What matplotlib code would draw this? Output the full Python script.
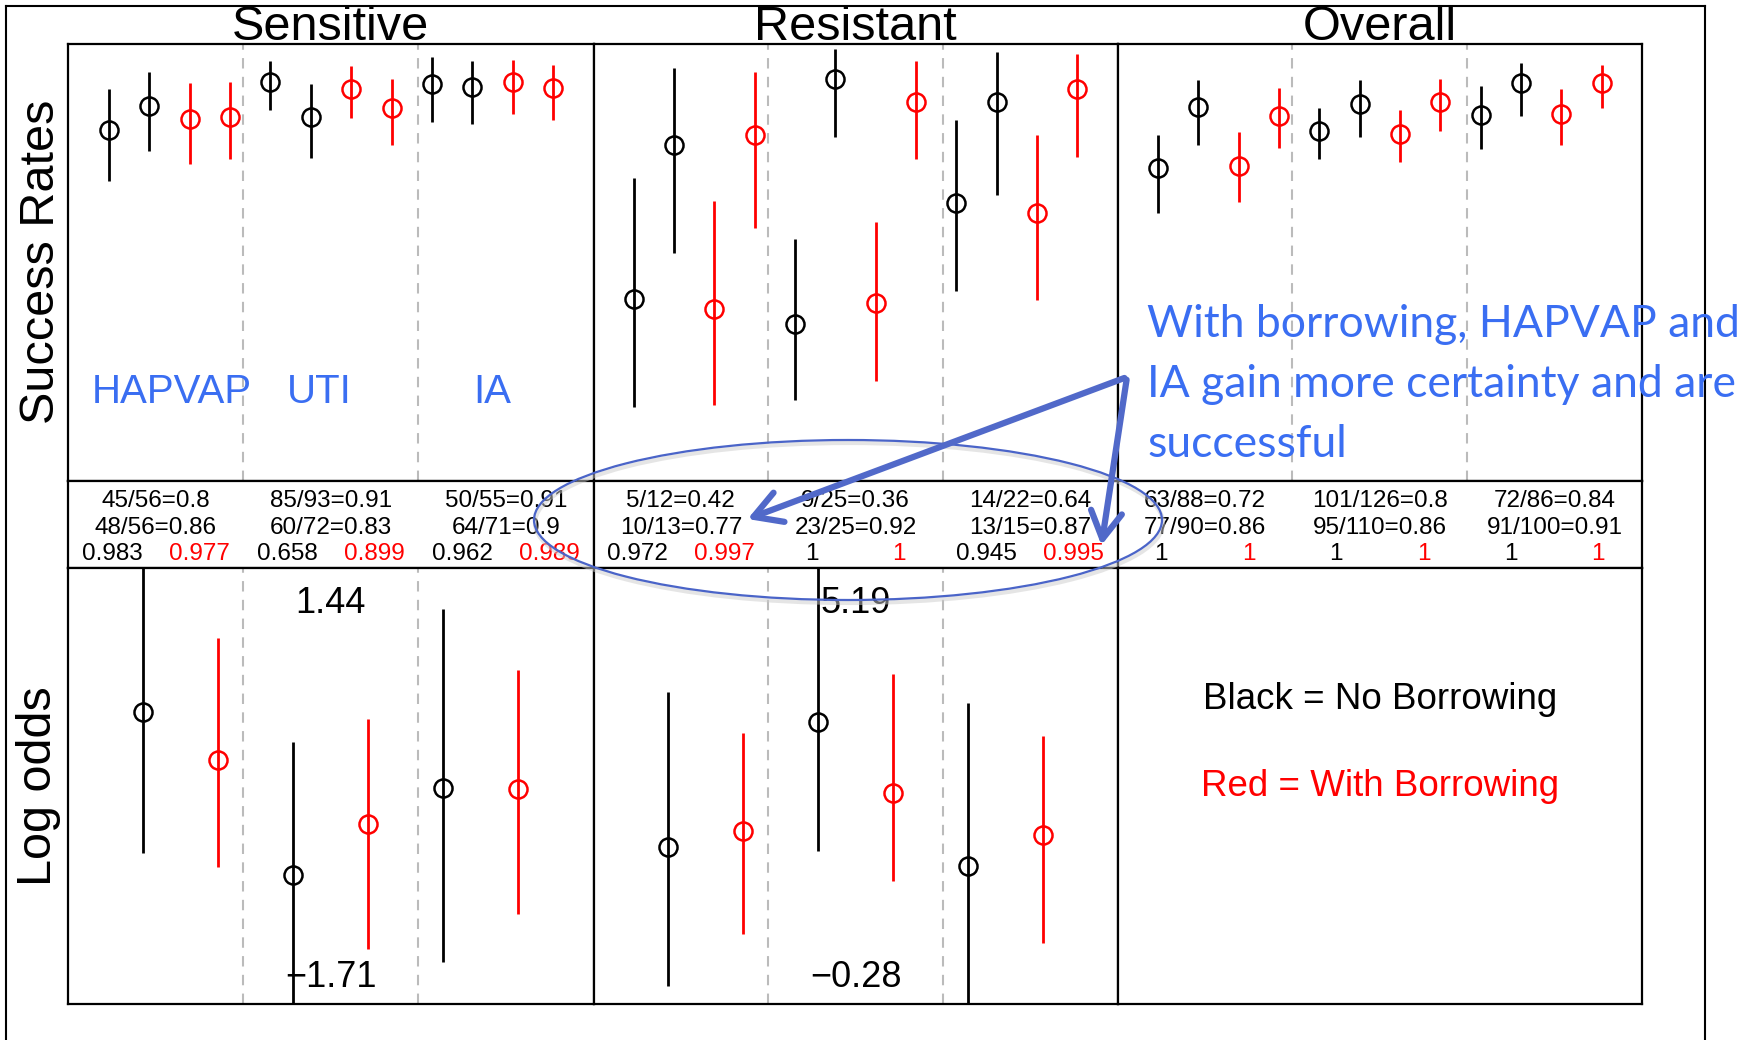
import matplotlib
matplotlib.use("Agg")
import matplotlib.pyplot as plt
from matplotlib.patches import Ellipse, FancyArrowPatch
from matplotlib.lines import Line2D

plt.rcParams['font.family'] = ['Liberation Sans', 'DejaVu Sans']

# sections and infection types
sections = ["Sensitive", "Resistant", "Overall"]
groups = ["HAPVAP", "UTI", "IA"]

# successes / patients, arm 1 and arm 2
arm1_x = [[45, 85, 50], [5, 9, 14], [63, 101, 72]]
arm1_n = [[56, 93, 55], [12, 25, 22], [88, 126, 86]]
arm2_x = [[48, 60, 64], [10, 23, 13], [77, 95, 91]]
arm2_n = [[56, 72, 71], [13, 25, 15], [90, 110, 100]]

# posterior probabilities, no borrowing / with borrowing
prob_nb = [[0.983, 0.658, 0.962], [0.972, 1, 0.945], [1, 1, 1]]
prob_wb = [[0.977, 0.899, 0.989], [0.997, 1, 0.995], [1, 1, 1]]

# success rate intervals without borrowing (arm1 lo/hi, arm2 lo/hi)
nb1_lo = [[0.687, 0.848, 0.822], [0.170, 0.186, 0.434], [0.614, 0.737, 0.760]]
nb1_hi = [[0.897, 0.960, 0.971], [0.694, 0.553, 0.827], [0.792, 0.854, 0.905]]
nb2_lo = [[0.756, 0.740, 0.818], [0.521, 0.787, 0.655], [0.768, 0.787, 0.835]]
nb2_hi = [[0.936, 0.909, 0.961], [0.946, 0.989, 0.981], [0.917, 0.917, 0.956]]

# success rates with borrowing
wb1_est = [[0.828, 0.897, 0.912], [0.394, 0.407, 0.613], [0.721, 0.794, 0.839]]
wb1_lo = [[0.726, 0.831, 0.839], [0.175, 0.229, 0.415], [0.638, 0.731, 0.769]]
wb1_hi = [[0.910, 0.950, 0.963], [0.641, 0.592, 0.791], [0.799, 0.849, 0.896]]
wb2_est = [[0.833, 0.854, 0.900], [0.792, 0.867, 0.897], [0.836, 0.867, 0.911]]
wb2_lo = [[0.736, 0.768, 0.826], [0.579, 0.737, 0.742], [0.761, 0.800, 0.854]]
wb2_hi = [[0.913, 0.920, 0.953], [0.935, 0.962, 0.976], [0.899, 0.919, 0.951]]

# log odds ratios (Sensitive, Resistant)
lo_nb_est = [[0.40, -0.78, -0.15], [1.69, 3.25, 1.45]]
lo_nb_lo = [[-0.62, -1.71, -1.41], [-0.05, 1.64, -0.28]]
lo_nb_hi = [[1.44, 0.18, 1.14], [3.63, 5.19, 3.49]]
lo_wb_est = [[0.05, -0.41, -0.16], [1.89, 2.37, 1.84]]
lo_wb_lo = [[-0.72, -1.31, -1.06], [0.60, 1.26, 0.49]]
lo_wb_hi = [[0.93, 0.35, 0.70], [3.12, 3.86, 3.08]]

W, H = 1752, 1040
BLUE = '#3a6ef2'
ARROW = '#5169c9'


def box(x0, y0, x1, y1):
    return [x0 / W, 1 - y1 / H, (x1 - x0) / W, (y1 - y0) / H]


def fx(x):
    return x / W


def fy(y):
    return 1 - y / H


def clean(ax):
    ax.set_xticks([])
    ax.set_yticks([])
    for s in ax.spines.values():
        s.set_linewidth(1.6)
        s.set_color('black')


def bar(ax, x, est, lo, hi, col):
    ax.vlines(x, lo, hi, color=col, lw=2)
    ax.plot(x, est, 'o', mfc='none', mec=col, ms=13, mew=1.8)


def fmt(v):
    return f"{v:.2f}".replace('-', '\u2212')


fig = plt.figure(figsize=(W / 100, H / 100), dpi=100)

sec_x = [68.3, 593.5, 1117.5, 1642]
y_top, y_tab, y_bot, y_end = 44, 481, 567.5, 1004

for i, sec in enumerate(sections):
    x0, x1 = sec_x[i], sec_x[i + 1]

    # success rates
    ax = fig.add_axes(box(x0, y_top, x1, y_tab))
    ax.set_xlim(0, 13)
    ax.set_ylim(0, 1)
    for d in (13 / 3, 26 / 3):
        ax.axvline(d, color='#bbbbbb', ls=(0, (5, 4)), lw=1.5)
    for j in range(3):
        base = 4 * j
        bar(ax, base + 1, arm1_x[i][j] / arm1_n[i][j], nb1_lo[i][j], nb1_hi[i][j], 'black')
        bar(ax, base + 2, arm2_x[i][j] / arm2_n[i][j], nb2_lo[i][j], nb2_hi[i][j], 'black')
        bar(ax, base + 3, wb1_est[i][j], wb1_lo[i][j], wb1_hi[i][j], 'red')
        bar(ax, base + 4, wb2_est[i][j], wb2_lo[i][j], wb2_hi[i][j], 'red')
    if i == 0:
        for gx, g in zip([2.55, 6.2, 10.5], groups):
            ax.text(gx, 0.203, g, color=BLUE, fontsize=29, ha='center', va='center')
    clean(ax)

    # counts table
    ax = fig.add_axes(box(x0, y_tab, x1, y_bot))
    ax.set_xlim(0, 3)
    ax.set_ylim(0, 1)
    for j in range(3):
        r1 = arm1_x[i][j] / arm1_n[i][j]
        r2 = arm2_x[i][j] / arm2_n[i][j]
        ax.text(j + 0.5, 0.77, f"{arm1_x[i][j]}/{arm1_n[i][j]}={round(r1, 2):g}",
                ha='center', va='center', fontsize=17.5)
        ax.text(j + 0.5, 0.455, f"{arm2_x[i][j]}/{arm2_n[i][j]}={round(r2, 2):g}",
                ha='center', va='center', fontsize=17.5)
        ax.text(j + 0.25, 0.16, f"{prob_nb[i][j]:g}", ha='center', va='center', fontsize=17.5)
        ax.text(j + 0.75, 0.16, f"{prob_wb[i][j]:g}", ha='center', va='center',
                fontsize=17.5, color='red')
    clean(ax)

    # log odds
    ax = fig.add_axes(box(x0, y_bot, x1, y_end))
    ax.set_xlim(0, 7)
    if i < 2:
        lo_min = min(lo_nb_lo[i] + lo_wb_lo[i])
        hi_max = max(lo_nb_hi[i] + lo_wb_hi[i])
        ax.set_ylim(lo_min, hi_max)
        for d in (7 / 3, 14 / 3):
            ax.axvline(d, color='#bbbbbb', ls=(0, (5, 4)), lw=1.5)
        for j in range(3):
            bar(ax, 2 * j + 1, lo_nb_est[i][j], lo_nb_lo[i][j], lo_nb_hi[i][j], 'black')
            bar(ax, 2 * j + 2, lo_wb_est[i][j], lo_wb_lo[i][j], lo_wb_hi[i][j], 'red')
        ax.text(0.5, 0.918, fmt(hi_max), transform=ax.transAxes, ha='center',
                va='center', fontsize=26)
        ax.text(0.5, 0.060, fmt(lo_min), transform=ax.transAxes, ha='center',
                va='center', fontsize=26)
    else:
        ax.set_ylim(0, 1)
        ax.text(0.5, 0.697, "Black = No Borrowing", transform=ax.transAxes,
                ha='center', va='center', fontsize=26.5)
        ax.text(0.5, 0.499, "Red = With Borrowing", transform=ax.transAxes,
                ha='center', va='center', fontsize=26.5, color='red')
    clean(ax)

    fig.text(fx((x0 + x1) / 2), fy(40), sec, ha='center', va='baseline', fontsize=35)

fig.text(fx(42), fy(262), "Success Rates", rotation=90, ha='center', va='center', fontsize=35)
fig.text(fx(39), fy(786), "Log odds", rotation=90, ha='center', va='center', fontsize=35)

# outer frame
for xs, ys in [((6, 6), (6, H)), ((6, 1705), (6, 6)), ((1705, 1705), (6, H))]:
    fig.add_artist(Line2D([fx(v) for v in xs], [fy(v) for v in ys],
                          color='black', lw=1.5))

# callout
note = "With borrowing, HAPVAP and\nIA gain more certainty and are\nsuccessful"
fig.text(fx(1147), fy(304), note, color=BLUE, fontsize=32, family='Lato',
         ha='left', va='top', linespacing=1.57)

fig.add_artist(Ellipse((fx(849), fy(523)), 628 / W, 160 / H, fill=False,
                       ec='#cccccc', lw=3, alpha=0.5, transform=fig.transFigure))
fig.add_artist(Ellipse((fx(848), fy(520)), 628 / W, 160 / H, fill=False,
                       ec='#4a64c8', lw=1.6, transform=fig.transFigure))

start = (fx(1127), fy(377))
for tip in [(fx(745), fy(520)), (fx(1101), fy(548))]:
    fig.add_artist(FancyArrowPatch(start, tip, transform=fig.transFigure,
                                   arrowstyle='->,head_length=0.7,head_width=0.4',
                                   mutation_scale=28, color=ARROW, lw=4.5))

fig.savefig("out.png", dpi=100)
